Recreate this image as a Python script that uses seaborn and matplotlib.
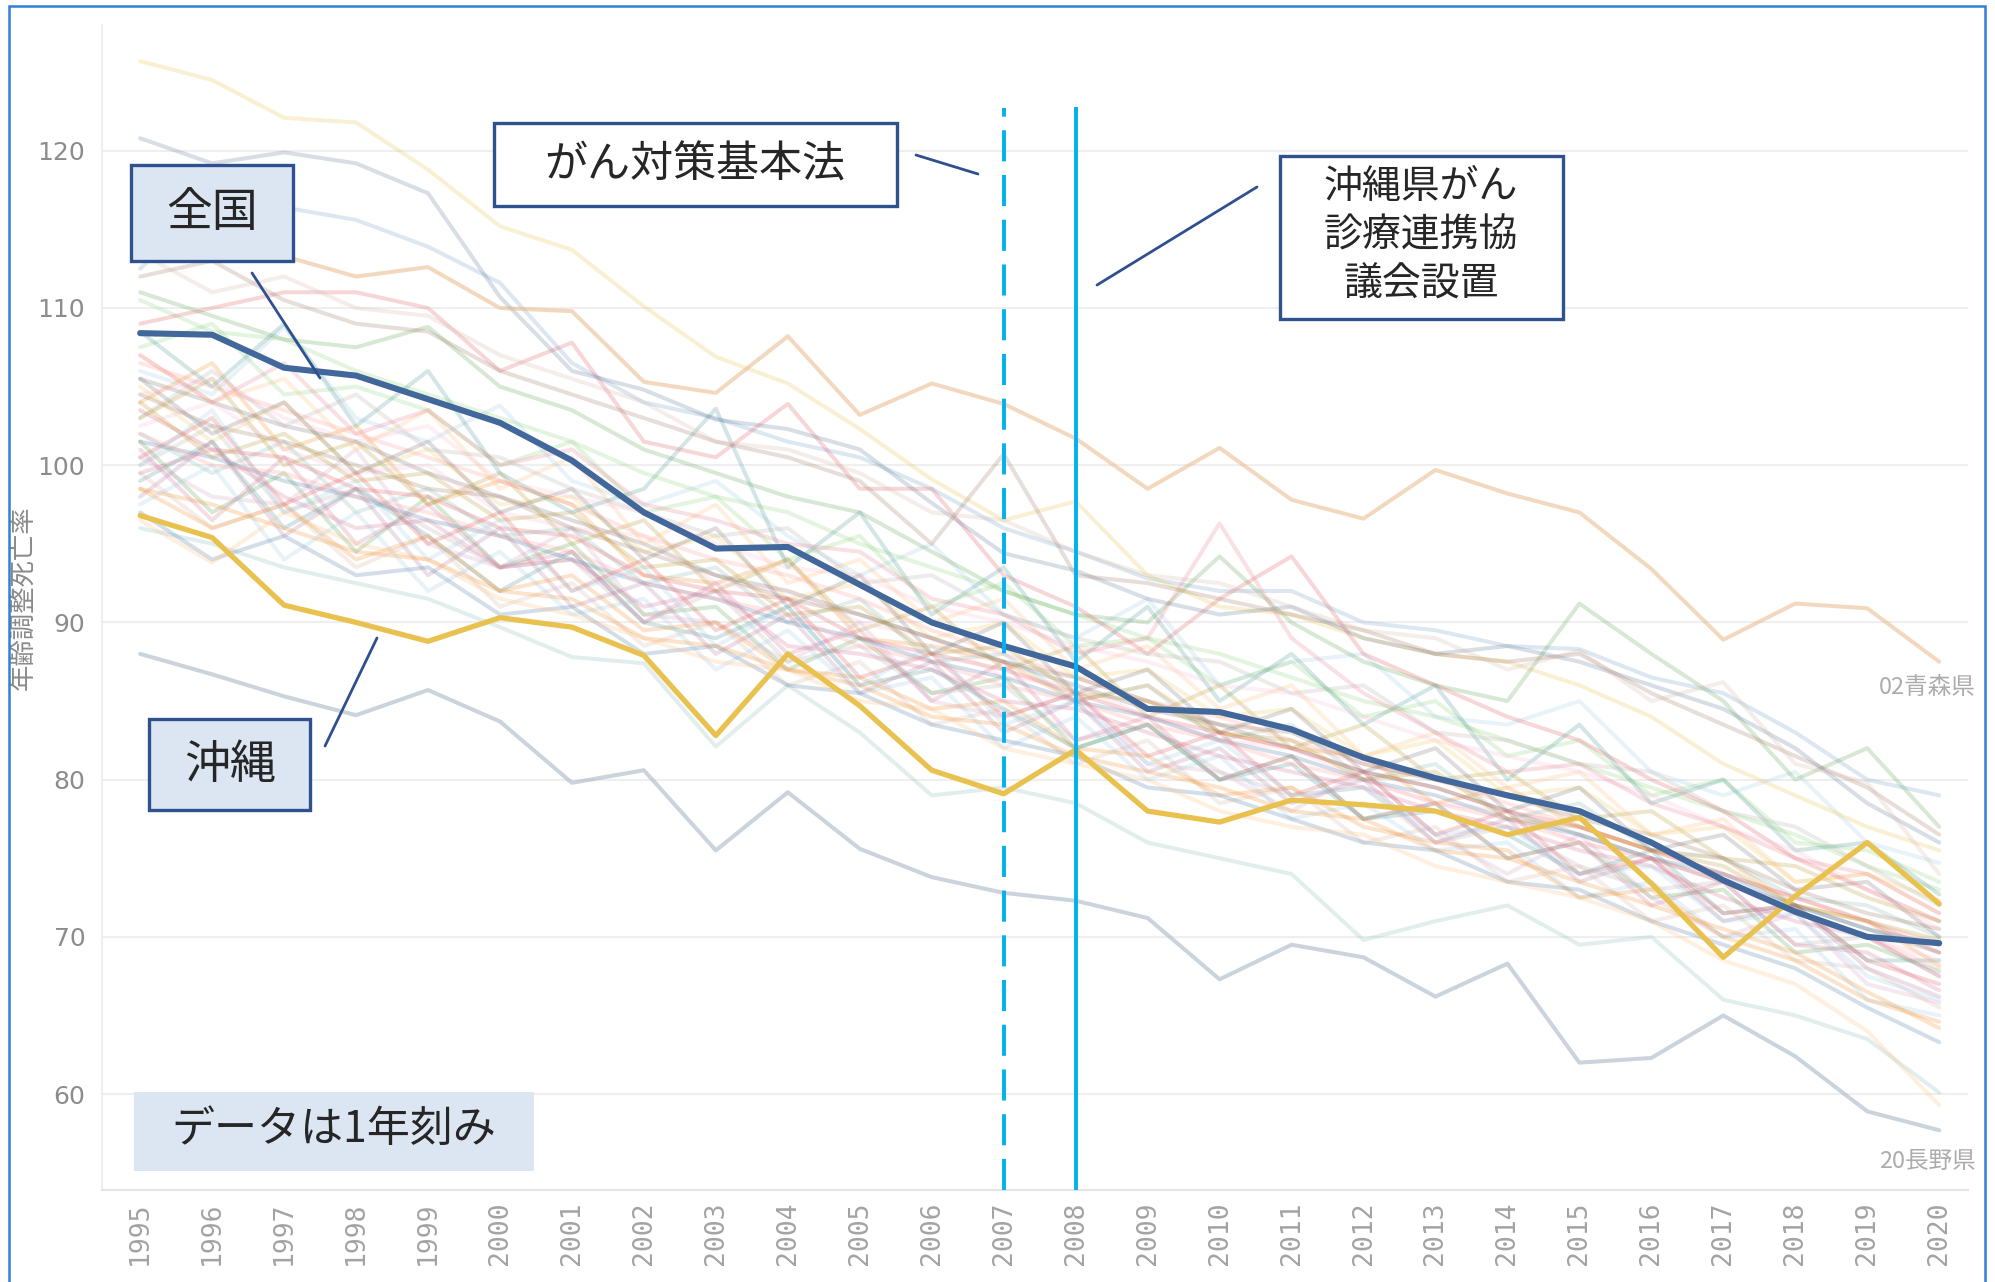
import matplotlib
matplotlib.use("Agg")
import matplotlib.pyplot as plt
import pandas as pd
import seaborn as sns
from matplotlib.lines import Line2D
from matplotlib.patches import Rectangle

# 75歳未満年齢調整死亡率 (がん), 1995-2020
years = list(range(1995, 2021))

national = [108.4, 108.3, 106.2, 105.7, 104.2, 102.7, 100.3, 97.0, 94.7, 94.8, 92.4, 90.0, 88.5,
            87.2, 84.5, 84.3, 83.2, 81.4, 80.1, 79.0, 78.0, 76.0, 73.6, 71.6, 70.0, 69.6]
okinawa = [96.8, 95.4, 91.1, 90.0, 88.8, 90.3, 89.7, 87.9, 82.8, 88.0, 84.7, 80.6, 79.1,
           81.9, 78.0, 77.3, 78.7, 78.4, 78.0, 76.5, 77.6, 73.4, 68.7, 72.6, 76.0, 72.1]
aomori = [113.5, 113.0, 113.3, 112.0, 112.6, 110.0, 109.8, 105.3, 104.6, 108.2, 103.2, 105.2, 103.9,
          101.7, 98.5, 101.1, 97.8, 96.6, 99.7, 98.2, 97.0, 93.4, 88.9, 91.2, 90.9, 87.5]
nagano = [88.0, 86.7, 85.3, 84.1, 85.7, 83.7, 79.8, 80.6, 75.5, 79.2, 75.6, 73.8, 72.8,
          72.3, 71.2, 67.3, 69.5, 68.7, 66.2, 68.3, 62.0, 62.3, 65.0, 62.4, 58.9, 57.7]

hokkaido = [112.5, 116.8, 116.4, 115.6, 113.9, 111.6, 106.5, 104.0, 103.0, 101.5, 100.5, 98.5, 96.0,
            94.5, 92.8, 92.0, 92.0, 90.0, 89.5, 88.5, 88.3, 86.5, 85.5, 83.0, 80.0, 79.0]
iwate = [106.0, 104.5, 108.8, 103.0, 101.5, 103.8, 99.0, 97.5, 99.0, 95.5, 93.0, 95.0, 90.5,
         89.0, 91.5, 86.0, 87.5, 88.0, 84.0, 83.5, 85.0, 80.5, 79.0, 80.5, 76.0, 74.7]
miyagi = [104.0, 106.5, 101.0, 102.5, 97.5, 99.0, 97.5, 93.0, 92.5, 94.0, 89.0, 88.5, 87.5,
          85.0, 86.0, 83.0, 82.0, 81.5, 78.5, 79.5, 77.0, 75.5, 75.0, 72.0, 71.0, 68.2]
akita = [111.0, 109.5, 108.0, 107.5, 108.8, 105.0, 103.5, 101.0, 99.5, 98.0, 97.0, 94.5, 92.0,
         90.5, 90.0, 94.2, 90.0, 87.5, 86.0, 85.0, 91.2, 88.0, 85.0, 80.0, 82.0, 77.0]
yamagata = [101.5, 97.0, 99.5, 94.5, 98.0, 93.5, 95.0, 90.5, 91.0, 87.0, 89.0, 85.5, 86.5,
            82.0, 83.5, 80.0, 81.5, 77.5, 78.5, 75.0, 76.0, 72.5, 73.0, 69.0, 69.5, 67.8]
fukushima = [107.5, 109.0, 104.5, 105.0, 103.5, 100.0, 101.5, 97.0, 98.0, 94.0, 95.5, 91.0, 92.5,
             88.5, 89.0, 86.0, 87.5, 84.0, 85.0, 81.5, 82.5, 79.0, 80.0, 76.0, 75.5, 73.5]
ibaraki = [103.0, 105.5, 100.0, 101.5, 97.5, 99.5, 95.0, 96.5, 92.0, 94.0, 89.5, 91.0, 87.0,
           88.5, 84.0, 86.0, 82.0, 83.5, 80.0, 80.5, 77.5, 78.0, 75.0, 74.5, 72.5, 71.0]
tochigi = [105.0, 101.5, 104.0, 99.5, 101.0, 97.5, 98.0, 94.5, 95.5, 91.5, 92.5, 89.0, 90.0,
           86.5, 87.0, 84.0, 84.5, 81.5, 82.5, 79.0, 79.5, 76.5, 77.0, 73.5, 74.0, 72.3]
gunma = [99.0, 101.5, 96.0, 98.5, 95.5, 92.0, 94.5, 90.0, 89.0, 91.0, 86.0, 87.0, 84.5,
         82.0, 83.5, 80.0, 81.0, 77.5, 78.0, 76.5, 74.0, 75.5, 71.5, 72.0, 68.5, 68.5]
saitama = [102.0, 99.5, 101.5, 97.0, 98.5, 95.5, 96.0, 92.5, 93.5, 90.0, 91.5, 87.5, 88.0,
           85.0, 86.0, 82.5, 83.5, 80.0, 81.0, 77.5, 78.5, 75.5, 75.0, 72.5, 72.0, 70.0]
chiba = [103.5, 101.0, 100.5, 98.5, 98.0, 96.0, 95.5, 93.0, 92.0, 91.5, 89.0, 88.0, 87.0,
         85.5, 84.0, 83.0, 82.0, 80.5, 79.5, 78.0, 77.0, 75.5, 74.0, 72.5, 71.0, 69.0]
tokyo = [106.5, 105.0, 103.5, 102.0, 100.5, 99.0, 97.5, 95.5, 94.0, 93.0, 91.5, 89.5, 88.0,
         86.5, 85.0, 84.0, 82.5, 81.0, 80.0, 78.5, 77.0, 75.5, 74.0, 72.5, 71.0, 69.5]
kanagawa = [105.5, 104.0, 102.5, 101.5, 99.5, 98.0, 96.5, 95.0, 93.0, 92.0, 90.5, 89.0, 87.5,
            86.0, 84.5, 83.5, 82.0, 80.5, 79.5, 78.0, 76.5, 75.0, 73.5, 72.0, 70.5, 69.0]
niigata = [100.0, 102.5, 97.0, 98.5, 96.0, 93.5, 94.0, 90.0, 92.0, 87.5, 88.5, 85.5, 86.0,
           82.5, 83.5, 80.5, 79.0, 79.5, 76.0, 77.0, 74.5, 73.0, 73.5, 69.5, 70.0, 67.5]
toyama = [101.0, 96.5, 100.5, 95.0, 97.5, 93.5, 94.5, 90.0, 92.5, 88.0, 89.5, 85.0, 87.5,
          82.5, 84.0, 80.0, 81.5, 77.5, 78.5, 75.0, 76.0, 72.0, 73.5, 69.5, 69.0, 66.6]
ishikawa = [102.5, 104.0, 101.0, 99.5, 100.0, 97.0, 96.0, 95.5, 92.5, 92.0, 90.0, 89.0, 86.5,
            86.0, 84.0, 82.5, 82.0, 80.0, 78.5, 78.0, 76.0, 75.0, 73.5, 71.5, 70.0, 68.5]
fukui = [98.0, 101.5, 95.5, 98.5, 93.0, 96.0, 91.0, 92.5, 88.0, 90.5, 85.5, 87.5, 83.0,
         85.0, 80.5, 82.0, 78.5, 80.0, 76.0, 77.5, 73.5, 75.0, 71.0, 72.0, 68.0, 66.2]
yamanashi = [100.5, 98.0, 97.5, 101.0, 95.0, 93.5, 96.0, 90.5, 90.0, 87.5, 90.0, 85.0, 84.0,
             85.5, 81.0, 80.5, 78.0, 80.5, 76.5, 74.0, 76.5, 72.5, 70.0, 71.5, 67.0, 65.8]
gifu = [104.5, 102.5, 101.5, 100.0, 98.5, 98.0, 96.0, 94.5, 93.0, 91.5, 90.5, 89.0, 87.5,
        86.5, 85.0, 83.5, 83.0, 81.0, 80.0, 79.0, 77.5, 76.5, 75.0, 73.0, 71.5, 70.5]
shizuoka = [99.5, 96.0, 97.5, 93.5, 95.5, 91.0, 92.5, 88.5, 90.0, 86.0, 87.5, 83.5, 84.5,
            81.0, 82.5, 78.5, 79.5, 76.0, 77.0, 73.5, 74.5, 71.0, 72.0, 68.5, 68.0, 65.5]
aichi = [101.5, 100.5, 99.0, 98.0, 96.5, 95.5, 94.0, 92.5, 91.5, 90.0, 89.0, 87.5, 86.5,
         85.0, 84.0, 82.5, 81.5, 80.0, 79.0, 77.5, 76.5, 75.0, 74.0, 72.0, 70.5, 69.5]
mie = [97.5, 100.0, 94.0, 97.0, 92.0, 94.5, 90.5, 91.5, 87.0, 89.5, 85.5, 86.5, 82.0,
       84.0, 80.0, 81.5, 77.5, 78.5, 75.5, 76.0, 72.5, 73.5, 70.0, 70.5, 66.0, 65.0]
shiga = [98.5, 96.0, 97.5, 94.0, 95.5, 92.0, 93.0, 89.5, 90.0, 87.0, 86.5, 84.5, 85.0,
         82.0, 81.5, 79.0, 79.5, 77.0, 76.0, 75.5, 72.5, 73.0, 70.0, 68.5, 66.0, 64.6]
kyoto = [107.0, 104.0, 105.5, 101.0, 103.5, 98.5, 100.5, 95.0, 97.5, 92.5, 94.0, 90.0, 91.5,
         87.0, 88.5, 84.5, 86.0, 81.5, 83.0, 79.5, 80.5, 76.5, 77.5, 73.5, 74.0, 71.5]
osaka = [125.7, 124.5, 122.1, 121.8, 118.8, 115.2, 113.7, 110.1, 106.9, 105.2, 102.3, 99.1, 96.5,
         97.7, 93.0, 91.0, 90.5, 89.0, 88.0, 87.5, 86.0, 84.0, 81.0, 79.0, 77.0, 75.5]
hyogo = [110.5, 108.5, 108.0, 106.0, 104.5, 103.0, 101.5, 99.5, 98.0, 97.0, 95.0, 93.5, 92.0,
         90.5, 89.0, 88.0, 86.5, 85.0, 84.0, 82.5, 81.0, 79.5, 78.0, 76.5, 74.5, 73.0]
nara = [104.0, 100.5, 102.0, 99.0, 99.5, 96.5, 97.0, 93.5, 94.0, 90.5, 91.0, 88.0, 88.5,
        85.5, 85.0, 83.0, 82.5, 80.0, 80.5, 77.5, 77.0, 75.5, 74.5, 72.0, 71.0, 69.8]
wakayama = [109.0, 110.0, 111.0, 111.0, 110.0, 106.0, 107.8, 101.5, 100.5, 103.9, 98.5, 98.5, 93.0,
            91.0, 88.0, 91.5, 94.2, 88.0, 86.0, 84.0, 82.5, 80.0, 78.0, 75.0, 73.0, 71.0]
tottori = [108.5, 105.0, 109.0, 102.5, 106.0, 99.5, 97.0, 98.5, 103.6, 93.5, 97.0, 90.5, 93.5,
           87.5, 91.0, 85.0, 88.0, 83.5, 86.0, 80.0, 83.5, 78.5, 80.0, 75.5, 76.0, 72.7]
shimane = [96.0, 95.0, 93.5, 92.5, 91.5, 89.7, 87.8, 87.4, 82.1, 86.0, 83.0, 79.0, 79.5,
           78.5, 76.0, 75.0, 74.0, 69.8, 71.0, 72.0, 69.5, 70.0, 66.0, 65.0, 63.5, 60.1]
okayama = [100.5, 103.0, 97.5, 99.5, 95.0, 97.0, 92.0, 94.0, 89.5, 91.5, 86.5, 88.0, 84.0,
           85.5, 81.5, 83.0, 79.0, 80.5, 76.5, 78.0, 74.0, 75.0, 71.5, 72.0, 68.5, 67.0]
hiroshima = [102.0, 100.0, 99.5, 98.0, 97.0, 95.5, 94.5, 92.5, 91.5, 90.5, 88.5, 87.5, 86.0,
             85.0, 83.5, 82.5, 81.0, 80.0, 78.5, 77.5, 76.0, 75.0, 73.5, 71.5, 70.0, 68.0]
yamaguchi = [105.5, 102.0, 104.0, 99.5, 101.5, 97.0, 98.5, 94.0, 96.0, 91.0, 93.0, 88.0, 90.0,
             85.5, 87.0, 83.0, 84.5, 80.5, 82.0, 78.0, 79.5, 75.5, 76.5, 73.0, 73.5, 70.0]
tokushima = [103.0, 106.0, 102.5, 104.5, 101.0, 100.5, 98.5, 97.0, 95.5, 96.0, 92.5, 93.0, 90.5,
             89.0, 88.0, 87.5, 85.5, 86.0, 83.0, 82.5, 81.0, 80.5, 78.0, 77.0, 74.5, 72.0]
kagawa = [99.5, 101.0, 98.0, 96.0, 96.5, 93.5, 94.0, 91.0, 92.0, 88.5, 88.0, 87.0, 85.0,
          84.5, 83.0, 81.5, 80.5, 79.5, 78.0, 77.0, 75.5, 74.5, 72.5, 71.0, 70.0, 67.5]
ehime = [104.5, 105.5, 103.0, 101.5, 102.5, 99.0, 98.0, 97.0, 95.0, 93.5, 93.0, 91.0, 90.0,
         88.5, 87.5, 86.0, 85.5, 84.0, 82.5, 81.5, 80.5, 79.0, 77.0, 75.5, 73.0, 70.5]
kochi = [107.0, 104.0, 106.5, 102.0, 103.5, 100.0, 101.0, 97.5, 96.5, 95.0, 94.5, 91.5, 90.5,
         88.0, 89.0, 96.3, 89.0, 85.5, 83.0, 80.5, 81.0, 78.5, 77.0, 75.0, 74.0, 71.5]
fukuoka = [120.8, 119.2, 119.9, 119.2, 117.3, 110.7, 106.0, 104.8, 102.9, 102.3, 101.0, 97.6, 94.4,
           93.3, 91.5, 90.5, 91.0, 89.0, 88.0, 88.5, 87.5, 86.0, 84.5, 82.0, 78.5, 76.0]
saga = [112.0, 113.0, 110.5, 109.0, 108.5, 106.0, 104.5, 103.0, 101.5, 100.5, 99.0, 95.0, 100.7,
        93.0, 92.5, 91.5, 90.5, 89.5, 88.0, 87.5, 88.0, 85.5, 83.5, 81.5, 79.5, 76.5]
nagasaki = [113.5, 111.0, 112.0, 110.0, 109.5, 107.0, 105.5, 104.0, 101.5, 101.0, 99.5, 97.0, 96.5,
            94.5, 93.0, 92.5, 91.0, 89.5, 89.0, 87.0, 88.2, 85.0, 86.2, 81.0, 79.8, 74.0]
kumamoto = [97.0, 94.0, 95.5, 93.0, 93.5, 90.5, 91.0, 88.0, 88.5, 86.0, 85.5, 83.5, 82.5,
            81.5, 79.5, 79.0, 77.5, 76.0, 75.5, 73.5, 73.0, 71.0, 69.5, 68.0, 65.5, 63.3]
oita = [100.0, 103.5, 97.0, 99.0, 94.0, 96.5, 92.0, 93.5, 88.5, 91.0, 86.0, 88.5, 83.5,
        85.0, 81.0, 82.5, 79.0, 79.5, 76.5, 77.0, 74.0, 74.5, 71.0, 71.5, 67.5, 66.0]
miyazaki = [98.5, 97.5, 96.0, 94.5, 94.0, 92.0, 91.5, 89.0, 88.5, 87.0, 86.0, 84.0, 83.5,
            81.5, 80.5, 79.5, 78.0, 77.5, 75.5, 75.0, 73.5, 72.0, 70.5, 69.0, 66.5, 64.2]
kagoshima = [96.5, 93.8, 97.0, 95.0, 94.0, 91.5, 90.5, 89.0, 87.5, 87.0, 85.0, 84.5, 82.0,
             81.0, 80.0, 78.0, 77.0, 76.5, 74.5, 73.5, 72.5, 71.0, 68.5, 67.0, 64.0, 59.3]

pref_names = ["01北海道", "03岩手県", "04宮城県", "05秋田県", "06山形県", "07福島県", "08茨城県",
              "09栃木県", "10群馬県", "11埼玉県", "12千葉県", "13東京都", "14神奈川県", "15新潟県",
              "16富山県", "17石川県", "18福井県", "19山梨県", "21岐阜県", "22静岡県", "23愛知県",
              "24三重県", "25滋賀県", "26京都府", "27大阪府", "28兵庫県", "29奈良県", "30和歌山県",
              "31鳥取県", "32島根県", "33岡山県", "34広島県", "35山口県", "36徳島県", "37香川県",
              "38愛媛県", "39高知県", "40福岡県", "41佐賀県", "42長崎県", "43熊本県", "44大分県",
              "45宮崎県", "46鹿児島県"]
pref_values = [hokkaido, iwate, miyagi, akita, yamagata, fukushima, ibaraki, tochigi, gunma, saitama,
               chiba, tokyo, kanagawa, niigata, toyama, ishikawa, fukui, yamanashi, gifu, shizuoka,
               aichi, mie, shiga, kyoto, osaka, hyogo, nara, wakayama, tottori, shimane, okayama,
               hiroshima, yamaguchi, tokushima, kagawa, ehime, kochi, fukuoka, saga, nagasaki,
               kumamoto, oita, miyazaki, kagoshima]

tableau20 = ["#4e79a7", "#a0cbe8", "#f28e2b", "#ffbe7d", "#59a14f", "#8cd17d", "#b6992d",
             "#f1ce63", "#499894", "#86bcb6", "#e15759", "#ff9d9a", "#79706e", "#bab0ac",
             "#d37295", "#fabfd2", "#b07aa1", "#d4a6c8", "#9d7660", "#d7b5a6"]

# long table for seaborn
rows = []
for name, vals in zip(pref_names, pref_values):
    for y, v in zip(years, vals):
        rows.append((name, y, v))
df = pd.DataFrame(rows, columns=["pref", "year", "rate"])
palette = {n: tableau20[i % 20] for i, n in enumerate(pref_names)}
palette["27大阪府"] = "#e8c24a"
palette["40福岡県"] = "#5d7594"
palette["01北海道"] = "#6f9cc8"
palette["05秋田県"] = "#59a14f"
palette["30和歌山県"] = "#e15759"
palette["39高知県"] = "#e87f8f"

W, H = 1995, 1282
sns.set_style("white")
plt.rcParams["font.family"] = ["Noto Sans CJK JP", "DejaVu Sans"]

fig = plt.figure(figsize=(W / 100, H / 100), dpi=100)
ax = fig.add_axes([102 / W, 1 - 1190 / H, (1968 - 102) / W, (1190 - 25) / H])

sns.lineplot(data=df, x="year", y="rate", hue="pref", palette=palette, units="pref",
             estimator=None, legend=False, linewidth=2.9, alpha=0.24, ax=ax)
sns.lineplot(x=years, y=aomori, color="#e9b98a", alpha=0.55, linewidth=2.9, ax=ax)
sns.lineplot(x=years, y=nagano, color="#a9b6c6", alpha=0.6, linewidth=2.9, ax=ax)
sns.lineplot(x=years, y=okinawa, color="#e9c14f", linewidth=3.8, ax=ax, zorder=5)
sns.lineplot(x=years, y=national, color="#42679a", linewidth=4.4, ax=ax, zorder=6)

ax.set_xlim(1994.47, 2020.4)
ax.set_ylim(53.9, 128.0)
ax.set_xticks(years)
ax.set_xticklabels([str(y) for y in years], rotation=90, family="DejaVu Sans Mono",
                   fontsize=19, color="#a3a3a3")
ax.set_xticks([y + 0.5 for y in years[:-1]], minor=True)
ax.set_yticks(range(60, 121, 10))
ax.set_yticklabels([str(v) for v in range(60, 121, 10)],
                   family=["Liberation Sans Narrow", "DejaVu Sans"], fontsize=18, color="#8c8c8c")
ax.tick_params(axis="x", which="major", length=0, pad=8)
ax.tick_params(axis="x", which="minor", length=6, color="#e0e0e0", width=1)
ax.tick_params(axis="y", length=0, pad=12)
ax.set_xlabel("")
ax.set_ylabel("")
ax.grid(axis="y", color="#efefef", linewidth=1.5)
ax.grid(axis="x", visible=False)
for side in ["top", "right"]:
    ax.spines[side].set_visible(False)
ax.spines["left"].set_color("#ececec")
ax.spines["bottom"].set_color("#e4e4e4")
ax.spines["left"].set_linewidth(1.2)
ax.spines["bottom"].set_linewidth(1.5)

# policy milestones
ax.vlines(2007, 53.9, 122.7, colors="#00b0f0", linewidth=2.8, linestyles=(0, (8, 3.5)), zorder=7)
ax.vlines(2008, 53.9, 122.8, colors="#00b0f0", linewidth=2.8, zorder=7)

fig.text(23 / W, 1 - 598 / H, "年齢調整死亡率", rotation=90, ha="center", va="center",
         fontsize=19, color="#8a8a8a")
fig.text(1976 / W, 1 - 688 / H, "02青森県", ha="right", va="center", fontsize=17, color="#acacac")
fig.text(1976 / W, 1 - 1162 / H, "20長野県", ha="right", va="center", fontsize=17, color="#acacac")


def add_box(x0, y0, x1, y1, face, edge):
    fig.add_artist(Rectangle((x0 / W, 1 - y1 / H), (x1 - x0) / W, (y1 - y0) / H,
                             transform=fig.transFigure, facecolor=face,
                             edgecolor=edge if edge else "none", linewidth=2.4, zorder=10))


def add_leader(x0, y0, x1, y1):
    fig.add_artist(Line2D([x0 / W, x1 / W], [1 - y0 / H, 1 - y1 / H], transform=fig.transFigure,
                          color="#2f4f8f", linewidth=2.0, zorder=10))


box_fill = "#dce6f2"
box_edge = "#2f528f"

add_box(131, 165, 293, 261, box_fill, box_edge)
fig.text(212 / W, 1 - 213 / H, "全国", ha="center", va="center", fontsize=33, zorder=11)
add_leader(252, 273, 320, 378)

add_box(149, 719, 310, 810, box_fill, box_edge)
fig.text(230 / W, 1 - 765 / H, "沖縄", ha="center", va="center", fontsize=33, zorder=11)
add_leader(325, 746, 377, 638)

add_box(494, 123, 897, 206, "white", box_edge)
fig.text(695 / W, 1 - 165 / H, "がん対策基本法", ha="center", va="center", fontsize=31, zorder=11)
add_leader(916, 155, 978, 174)

add_box(1280, 156, 1563, 319, "white", box_edge)
for i, line in enumerate(["沖縄県がん", "診療連携協", "議会設置"]):
    fig.text(1421 / W, 1 - (187 + 49 * i) / H, line, ha="center", va="center", fontsize=28, zorder=11)
add_leader(1257, 187, 1097, 285)

add_box(134, 1092, 534, 1171, box_fill, None)
fig.text(334 / W, 1 - 1130 / H, "データは1年刻み", ha="center", va="center", fontsize=31, zorder=11)

# outer frame
fig.add_artist(Rectangle((9 / W, -0.01), (1985 - 9) / W, 1 - 6 / H + 0.01, transform=fig.transFigure,
                         facecolor="none", edgecolor="#2f7ed8", linewidth=1.8, zorder=12))

fig.savefig("out.png", dpi=100)
